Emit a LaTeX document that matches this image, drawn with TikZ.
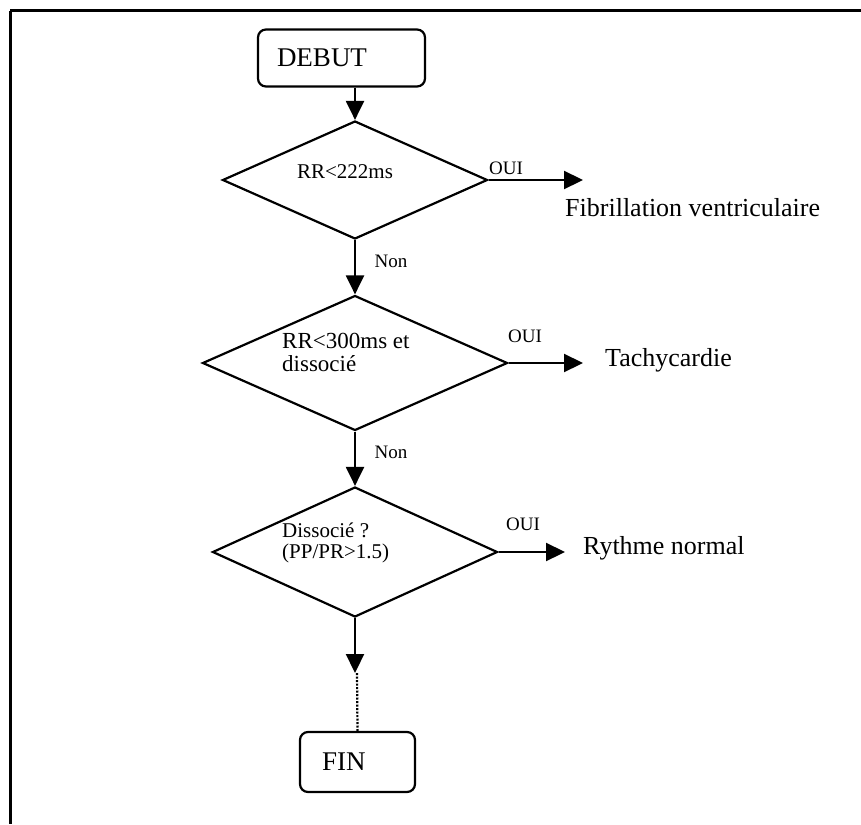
\documentclass[tikz,border=0pt]{standalone}
\usepackage{fontspec}
\setmainfont{Liberation Serif}
\usetikzlibrary{arrows.meta,shapes.geometric}
\begin{document}
\begin{tikzpicture}[x=1pt,y=-1pt,
  frameline/.style={line width=3pt},
  termbox/.style={draw,line width=2.2pt,rounded corners=8pt,align=left,minimum height=57pt,font=\fontsize{27}{30}\selectfont},
  decision/.style={draw,shape=diamond,line width=2.2pt,inner sep=0pt},
  dtext/.style={align=left,inner sep=0pt,font=\fontsize{20}{23}\selectfont},
  tag/.style={inner sep=0pt,font=\fontsize{19}{21}\selectfont},
  outtext/.style={inner sep=0pt,anchor=west,font=\fontsize{26}{29}\selectfont},
  arr/.style={line width=2.2pt,-{Triangle[length=19pt,width=18pt]}},
  dotline/.style={line width=2.2pt,dash pattern=on 2pt off 1.5pt}]
\useasboundingbox (0,0) rectangle (861,824);
% frame (top and left only)
\draw[frameline] (10,11) -- (861,11);
\draw[frameline] (10,11) -- (10,824);
% start / end
\node[termbox,text width=129pt,inner xsep=19pt,minimum width=167pt] (debut) at (341.5,58) {DEBUT};
\node[termbox,text width=71pt,inner xsep=22pt,minimum width=115pt,minimum height=60pt] (fin) at (357.5,762) {FIN};
% decisions
\node[decision,minimum width=265pt,minimum height=118pt] (d1) at (355,180) {};
\node[decision,minimum width=305pt,minimum height=135pt] (d2) at (355,363) {};
\node[decision,minimum width=285pt,minimum height=130pt] (d3) at (355,552) {};
\node[dtext,font=\fontsize{21}{23}\selectfont] (t1) at (345,172) {RR<222ms};
\node[dtext,anchor=west,font=\fontsize{23}{23}\selectfont] (t2) at (282,352) {RR<300ms et\\dissocié};
\node[dtext,anchor=west,font=\fontsize{21}{21}\selectfont] (t3) at (282,543) {Dissocié ?\\(PP/PR>1.5)};
% outcomes
\coordinate (e1) at (583,180);
\coordinate (e2) at (583,363);
\coordinate (e3) at (565,552);
\node[outtext] (o1) at (565,208) {Fibrillation ventriculaire};
\node[outtext] (o2) at (605,360) {Tachycardie};
\node[outtext] (o3) at (583,548) {Rythme normal};
% connectors
\draw[arr] (d1.north |- debut.south) -- (d1.north);
\draw[arr] (d1.south) -- (d2.north);
\draw[arr] (d2.south) -- (d3.north);
\draw[arr] (d1.east) -- (e1);
\draw[arr] (d2.east) -- (e2);
\draw[arr] (d3.east) -- (e3);
\coordinate (m) at (357,673);
\draw[arr] (d3.south) -- (d3.south |- m);
\draw[dotline] (m) -- (fin.north);
% branch labels
\node[tag] (oui1) at (506,168) {OUI};
\node[tag] (oui2) at (525,336) {OUI};
\node[tag] (oui3) at (523,524) {OUI};
\node[tag] (non1) at (391,261) {Non};
\node[tag] (non2) at (391,452) {Non};
\end{tikzpicture}
\end{document}
